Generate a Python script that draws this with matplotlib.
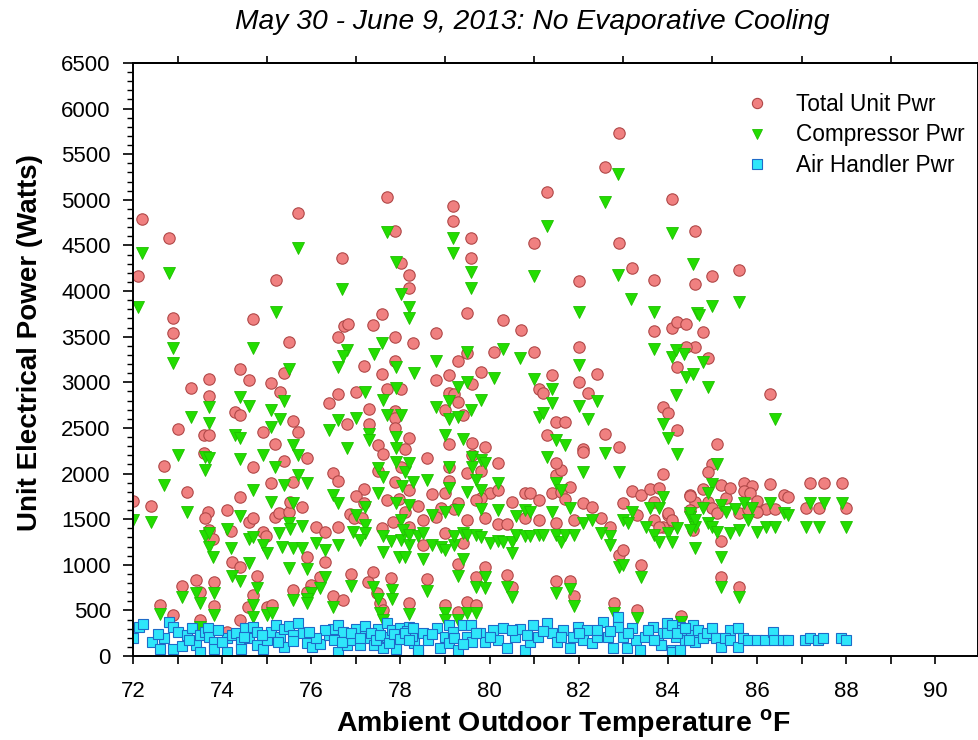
import matplotlib
matplotlib.use("Agg")
import matplotlib.pyplot as plt
from matplotlib.ticker import MultipleLocator, FixedLocator, NullFormatter

plt.rcParams['font.family'] = ['Liberation Sans', 'DejaVu Sans']
plt.rcParams['mathtext.fontset'] = 'custom'
plt.rcParams['mathtext.rm'] = 'Liberation Sans:bold'
plt.rcParams['mathtext.bf'] = 'Liberation Sans:bold'

title = "May 30 - June 9, 2013: No Evaporative Cooling"
xlabel = "Ambient Outdoor Temperature $^{\\mathregular{o}}$F"
ylabel = "Unit Electrical Power (Watts)"
series_names = ["Total Unit Pwr", "Compressor Pwr", "Air Handler Pwr"]
x_ticks = [72, 74, 76, 78, 80, 82, 84, 86, 88, 90]
y_ticks = [0, 500, 1000, 1500, 2000, 2500, 3000, 3500, 4000, 4500, 5000, 5500, 6000, 6500]

# (temperature F, watts)
total_pts = [
    (72.20, 4790), (72.81, 4580), (72.11, 4165), (72.90, 3704), (72.90, 3540), (74.69, 3694),
    (75.21, 4121), (75.70, 4855), (75.50, 3441), (76.69, 4362), (76.60, 3496), (76.74, 3617),
    (76.82, 3639), (77.39, 3628), (77.59, 3748), (77.70, 5031), (77.88, 4658), (77.88, 3496),
    (78.01, 4307), (78.19, 4176), (78.19, 4033), (78.28, 3430),
    (73.30, 2937), (73.71, 3036), (73.71, 2850), (74.40, 3146), (74.60, 3025), (75.10, 2992),
    (75.30, 2893), (75.39, 3102), (73.01, 2488), (73.59, 2422), (73.71, 2422), (74.29, 2674),
    (74.40, 2641), (74.92, 2455), (75.19, 2324), (75.59, 2576), (75.70, 2455), (75.39, 2137),
    (75.90, 2170), (74.69, 2071), (73.59, 2225), (72.70, 2082), (73.21, 1797), (75.10, 1896),
    (74.40, 1743), (75.59, 1907), (72.00, 1699), (72.40, 1644), (73.68, 1578), (73.62, 1512),
    (74.11, 1600), (74.60, 1469), (74.69, 1512), (75.19, 1523), (75.28, 1567), (75.50, 1578),
    (75.79, 1633), (75.52, 1688), (73.71, 1381), (73.80, 1282), (74.20, 1370), (74.92, 1359),
    (74.98, 1315), (76.11, 1414), (76.31, 1359), (74.22, 1030), (74.40, 975), (74.78, 877),
    (75.90, 1085), (76.31, 1030), (76.20, 866), (75.99, 778), (75.59, 723), (75.90, 701),
    (73.10, 767), (73.41, 833), (73.50, 701), (73.82, 811), (72.61, 559), (72.90, 449),
    (73.82, 548), (73.50, 395), (74.69, 669), (74.58, 537), (75.01, 537), (75.12, 559),
    (74.40, 395), (74.11, 263), (76.49, 2006), (76.60, 1918), (76.40, 2773), (76.60, 2872),
    (77.00, 2893), (77.18, 3178), (77.30, 2707), (76.80, 2543), (77.30, 2543), (77.50, 2313),
    (77.61, 2214), (77.59, 3091), (77.70, 2926), (77.88, 2685), (77.88, 2608), (77.88, 2499),
    (78.19, 2389), (78.10, 2269), (77.88, 3233), (78.01, 2926), (77.50, 2028), (78.01, 2071),
    (77.88, 1907), (78.19, 1819), (77.18, 1830), (77.00, 1754), (77.18, 1677), (77.70, 1710),
    (77.97, 1721), (76.87, 1556), (76.96, 1512), (77.14, 1512), (77.59, 1403), (77.83, 1469),
    (78.10, 1578), (78.19, 1414), (76.89, 899), (77.39, 921), (77.27, 811), (77.48, 690),
    (77.79, 855), (77.54, 581), (77.61, 504), (76.49, 658), (76.71, 614), (78.19, 581),
    (76.60, 1414),
    (79.18, 4930), (79.18, 4770), (79.58, 4580), (79.58, 4360), (79.50, 3760), (78.80, 3540),
    (80.30, 3680), (80.70, 3570), (81.30, 5090), (81.00, 4530), (82.60, 5360), (82.90, 4530),
    (83.20, 4250), (82.00, 4110), (83.70, 4120), (84.10, 5010), (84.60, 4660), (84.60, 4080),
    (81.00, 3330), (82.00, 3390), (83.70, 3560), (84.10, 3600), (84.20, 3660), (84.40, 3640),
    (84.60, 3390), (84.40, 3390), (84.20, 3170), (78.80, 3020), (79.10, 3080), (79.50, 3320),
    (79.30, 3230), (79.80, 3110), (80.10, 3330), (79.60, 2980), (79.10, 2880), (79.20, 2870),
    (79.30, 2780), (79.00, 2700), (79.40, 2640), (81.40, 3080), (81.10, 2930), (81.20, 2880),
    (82.00, 3000), (82.40, 3090), (82.20, 2880), (81.50, 2560), (81.70, 2560), (81.30, 2420),
    (82.60, 2430), (83.90, 2730), (84.00, 2660), (84.20, 2480), (79.10, 2320), (79.60, 2330),
    (79.90, 2290), (82.10, 2270), (82.90, 2290),
    (80.20, 2120), (78.60, 2170), (79.60, 2200), (79.80, 2030), (79.10, 2070), (79.50, 2010),
    (79.10, 1920), (78.70, 1780), (79.00, 1790), (80.00, 1790), (80.20, 1820), (79.80, 1730),
    (79.30, 1680), (79.70, 1710), (80.50, 1690), (80.80, 1790), (80.90, 1790), (81.10, 1710),
    (81.40, 1790), (81.60, 1800), (81.50, 1980), (81.60, 2040), (81.50, 2120), (81.80, 1850),
    (81.70, 1720), (82.10, 2240), (82.10, 1680), (82.30, 1630), (83.00, 1680), (83.20, 1810),
    (83.40, 1760), (83.60, 1830), (83.80, 1840), (83.90, 1990), (84.00, 1550), (84.10, 1460),
    (84.50, 1760), (84.60, 1690), (78.40, 1640), (78.90, 1620), (79.20, 1610), (78.80, 1520),
    (79.50, 1490), (79.90, 1510), (80.20, 1450), (80.40, 1450), (80.80, 1510), (81.10, 1490),
    (81.50, 1460), (81.90, 1490), (82.50, 1510), (82.70, 1410), (83.30, 1550), (83.70, 1490),
    (83.90, 1410), (78.50, 1490), (79.00, 1350), (78.50, 1220), (79.40, 1240), (82.90, 1110),
    (83.00, 1160), (79.30, 1010), (79.90, 980), (83.40, 1000), (78.60, 840), (79.70, 870),
    (80.40, 890), (80.50, 760), (81.50, 820), (81.80, 820), (81.90, 660), (79.00, 560),
    (79.50, 590), (79.70, 560), (79.30, 480), (82.80, 580), (83.30, 500), (84.30, 440),
    (84.80, 3550), (84.90, 3270), (85.10, 2320), (85.00, 2100), (84.90, 2020), (86.30, 2870),
    (83.69, 1688), (85.20, 1870), (85.30, 1730), (85.40, 1840), (85.70, 1900), (85.90, 1860),
    (85.70, 1810), (85.85, 1790), (86.00, 1700), (86.30, 1890), (86.60, 1760), (86.70, 1740),
    (87.20, 1900), (87.50, 1900), (87.90, 1900), (87.10, 1620), (87.40, 1620), (88.00, 1620),
    (86.20, 1610), (86.40, 1610), (84.50, 1750), (84.80, 1830), (84.90, 1690), (84.50, 1600),
    (85.00, 1620), (85.10, 1570), (85.60, 1570), (85.80, 1610), (86.00, 1580), (84.57, 1381),
    (84.00, 1570), (84.10, 1490), (83.80, 1410), (85.20, 1260), (85.20, 870), (85.60, 760),
    (85.00, 4170), (85.60, 4230), (82.90, 5730),
]

comp_pts = [
    (72.20, 4420), (72.11, 3830), (72.81, 4200), (72.90, 3380), (74.69, 3380), (75.21, 3770),
    (75.70, 4470), (76.69, 4020), (77.59, 3430), (77.70, 4650), (77.90, 4320), (78.01, 3970),
    (78.19, 3820), (78.19, 3700), (76.80, 3350),
    (72.90, 3210), (75.50, 3150), (76.60, 3170), (76.71, 3290), (77.41, 3310), (77.90, 3170),
    (78.30, 3100), (73.30, 2620), (73.71, 2730), (73.71, 2550), (74.40, 2840), (74.60, 2740),
    (75.10, 2700), (75.39, 2790), (73.01, 2200), (73.62, 2180), (73.71, 2170), (73.62, 2040),
    (74.29, 2420), (74.40, 2390), (74.40, 2160), (74.92, 2200), (75.10, 2510), (75.30, 2600),
    (75.19, 2070), (75.59, 2310), (75.70, 2200), (75.70, 1980), (75.90, 1900), (72.70, 1870),
    (73.21, 1580), (72.00, 1490), (72.40, 1470), (74.69, 1820), (75.10, 1690), (75.39, 1870),
    (75.59, 1680), (74.40, 1530), (73.62, 1320), (73.71, 1350), (73.71, 1200), (73.80, 1090),
    (74.11, 1390), (74.20, 1180), (74.60, 1280), (74.69, 1300), (74.92, 1220), (75.01, 1130),
    (75.28, 1350), (75.35, 1190), (75.50, 1460), (75.52, 1390), (75.59, 1180), (75.79, 1430),
    (75.79, 1180), (76.11, 1240), (76.31, 1160), (75.50, 970), (75.90, 950), (74.22, 880),
    (74.40, 820), (74.78, 750), (74.60, 1020), (76.31, 870), (76.20, 750), (75.99, 690),
    (73.10, 650), (73.41, 690), (73.50, 580), (73.82, 690), (72.61, 460), (73.82, 450),
    (73.50, 320), (74.69, 560), (74.69, 430), (75.01, 450), (75.12, 470), (75.59, 610),
    (75.90, 620), (75.90, 580), (76.49, 540), (76.89, 770), (77.39, 760), (77.50, 620),
    (77.81, 720), (77.81, 620), (77.54, 470), (77.61, 390), (78.19, 460), (76.49, 1760),
    (76.60, 1680), (76.40, 2480), (76.60, 2590), (77.00, 2610), (76.80, 2280), (77.20, 2890),
    (77.30, 2430), (77.30, 2370), (77.50, 2060), (77.61, 1960), (77.61, 2810), (77.70, 2640),
    (77.90, 2940), (77.90, 2400), (77.90, 2280), (77.90, 2130), (78.01, 2640), (78.10, 2020),
    (78.19, 2120), (78.03, 1860), (78.29, 1910), (77.50, 1790), (77.20, 1630), (77.00, 1550),
    (77.20, 1440), (77.20, 1350), (76.93, 1360), (77.10, 1270), (77.61, 1310), (77.61, 1140),
    (77.79, 1260), (77.90, 1680), (78.01, 1490), (78.01, 1270), (78.19, 1220), (77.97, 1090),
    (78.19, 1660), (76.60, 1220),
    (79.18, 4580), (79.18, 4420), (79.58, 4210), (79.58, 4030), (82.88, 5280), (82.60, 4980),
    (81.30, 4710), (81.00, 4160), (82.88, 4180), (83.17, 3910), (82.00, 3770), (83.70, 3770),
    (84.10, 4640), (84.57, 4300), (84.66, 3760), (79.50, 3330), (78.80, 3230), (80.30, 3370),
    (80.69, 3270), (81.00, 3040), (82.00, 3190), (83.70, 3370), (84.10, 3280), (84.19, 3350),
    (84.37, 3310), (84.40, 3060), (84.57, 3090), (84.19, 2860), (78.80, 2730), (79.10, 2800),
    (79.30, 2950), (79.50, 3000), (79.80, 2810), (80.10, 3050), (79.58, 2700), (79.10, 2600),
    (79.30, 2620), (79.00, 2420), (79.40, 2380), (81.40, 2930), (81.40, 2770), (81.10, 2620),
    (81.20, 2660), (82.00, 2740), (82.40, 2800), (82.20, 2600), (83.90, 2540), (84.00, 2390),
    (81.50, 2370), (81.70, 2310),
    (81.30, 2180), (82.60, 2220), (84.20, 2210), (78.60, 1930), (79.60, 2180), (79.60, 2070),
    (79.10, 2070), (79.80, 2150), (79.90, 2120), (79.70, 1930), (80.20, 1900), (79.50, 1800),
    (79.80, 1820), (79.10, 1840), (82.10, 2020), (82.90, 2020), (81.50, 1900), (81.60, 1820),
    (78.70, 1550), (79.00, 1580), (79.30, 1600), (79.80, 1610), (80.20, 1600), (80.60, 1530),
    (80.80, 1600), (80.90, 1580), (81.40, 1580), (81.80, 1620), (82.10, 1460), (82.30, 1490),
    (82.50, 1350), (82.70, 1310), (82.70, 1220), (83.00, 1490), (83.10, 1460), (83.20, 1580),
    (83.50, 1410), (83.60, 1620), (83.80, 1620), (83.70, 1330), (83.90, 1740), (84.00, 1350),
    (84.20, 1400), (84.50, 1520), (84.60, 1410), (84.60, 1180), (78.05, 1380), (78.20, 1330),
    (78.40, 1310), (78.50, 1350), (78.70, 1220), (78.90, 1200), (79.00, 1160), (79.20, 1220),
    (79.20, 1310), (79.40, 1350), (79.50, 1330), (79.70, 1330), (79.80, 1300), (80.00, 1240),
    (80.20, 1260), (80.30, 1250), (80.50, 1250), (80.50, 1130), (80.60, 1330), (80.80, 1310),
    (80.90, 1310), (81.10, 1330), (81.20, 1330), (81.50, 1330), (81.60, 1250), (81.70, 1330),
    (81.90, 1330), (78.10, 1090), (78.50, 1060), (79.40, 1060), (79.30, 880), (79.90, 870),
    (79.70, 760), (79.90, 750), (78.60, 710), (80.40, 760), (80.50, 650), (81.50, 690),
    (81.80, 730), (81.90, 550), (82.90, 980), (83.00, 1000), (83.40, 870), (79.00, 470),
    (79.00, 400), (79.30, 390), (79.50, 470), (79.70, 470), (82.80, 470), (83.30, 420),
    (84.30, 370),
    (84.70, 3740), (85.00, 3840), (85.60, 3880), (84.80, 3220), (84.90, 2950), (85.10, 2100),
    (85.00, 1890), (84.90, 1790), (86.40, 2600), (85.20, 1660), (85.30, 1580), (85.50, 1610),
    (85.70, 1680), (85.90, 1620), (86.30, 1680), (86.60, 1570), (86.70, 1550), (87.20, 1680),
    (87.50, 1680), (87.90, 1680), (87.10, 1410), (87.40, 1410), (88.00, 1410), (86.20, 1410),
    (86.40, 1410), (84.50, 1570), (84.60, 1490), (84.80, 1620), (84.90, 1460), (85.00, 1410),
    (85.10, 1360), (85.40, 1350), (85.60, 1380), (85.80, 1490), (86.00, 1360), (84.50, 1380),
    (84.10, 1250), (83.80, 1250), (85.20, 1080), (85.20, 760), (85.60, 650),
]

airh_pts = [
    (72.00, 197), (72.13, 318), (72.22, 351), (72.43, 153), (72.61, 77), (72.70, 197),
    (72.81, 373), (72.90, 318), (72.90, 77), (73.01, 263), (73.10, 110), (73.21, 230),
    (73.32, 307), (73.41, 121), (73.50, 230), (73.50, 44), (73.62, 263), (73.68, 307),
    (73.71, 208), (73.82, 153), (73.82, 77), (74.11, 197), (74.11, 44), (74.22, 230),
    (74.31, 252), (74.42, 153), (74.42, 77), (74.51, 307), (74.60, 197), (74.69, 318),
    (74.78, 263), (74.78, 121), (74.92, 77), (75.01, 175), (75.10, 263), (75.21, 340),
    (75.30, 208), (75.39, 296), (75.39, 99), (75.50, 329), (75.59, 230), (75.70, 362),
    (75.82, 252), (75.90, 142), (76.02, 99), (76.20, 132), (76.40, 230), (76.49, 296),
    (76.60, 340), (76.60, 44), (76.71, 263), (76.80, 121), (76.91, 175), (77.00, 296),
    (77.09, 121), (77.21, 263), (77.30, 197), (77.41, 121), (77.50, 296), (77.61, 88),
    (77.70, 362), (77.70, 208), (77.81, 285), (77.90, 175), (77.90, 77), (77.99, 307),
    (78.10, 208), (78.19, 318), (78.31, 142), (78.40, 33),
    (76.50, 180), (76.70, 150), (76.90, 250), (77.10, 200), (77.20, 330), (77.35, 250),
    (77.45, 180), (77.55, 230), (77.75, 140), (77.85, 240), (78.00, 190), (78.15, 270),
    (78.25, 220), (76.30, 290), (76.10, 200), (75.95, 260), (75.60, 160), (75.25, 150),
    (74.90, 230), (74.50, 210), (74.00, 150), (73.90, 280), (73.25, 170), (72.55, 240),
    (78.10, 252), (78.19, 175), (78.28, 307), (78.40, 66), (78.51, 252), (78.62, 175),
    (78.82, 307), (78.89, 88), (79.00, 208), (79.09, 340), (79.09, 142), (79.18, 263),
    (79.29, 66), (79.41, 340), (79.50, 208), (79.59, 340), (79.61, 153), (79.79, 252),
    (79.90, 153), (80.08, 285), (80.19, 175), (80.30, 307), (80.39, 88), (80.57, 208),
    (80.68, 296), (80.80, 66), (80.91, 153), (80.98, 340), (81.09, 208), (81.29, 362),
    (81.40, 252), (81.52, 153), (81.65, 285), (81.81, 88), (81.87, 208), (81.99, 318),
    (82.10, 175), (82.19, 285), (82.30, 142), (82.41, 208), (82.55, 373), (82.66, 208),
    (82.77, 88), (82.88, 427), (82.88, 318), (83.00, 208), (83.09, 88), (83.20, 307),
    (83.29, 175), (83.38, 66), (83.49, 208), (83.67, 318), (83.78, 175), (83.89, 252),
    (83.98, 362), (84.10, 66), (84.19, 208), (84.28, 318), (84.39, 175), (84.48, 252),
    (84.57, 340), (84.68, 208),
    (78.70, 240), (79.20, 200), (79.40, 130), (79.70, 250), (80.00, 210), (80.50, 280),
    (80.85, 230), (81.20, 270), (81.60, 210), (82.00, 250), (82.40, 290), (82.70, 270),
    (83.10, 250), (83.55, 280), (83.85, 120), (84.30, 280), (84.60, 150), (85.00, 230),
    (85.40, 280),
    (83.69, 175), (83.98, 252), (84.10, 340), (84.10, 44), (84.21, 252), (84.28, 66),
    (84.39, 307), (84.48, 175), (84.68, 285), (84.79, 197), (84.88, 252), (84.99, 307),
    (85.08, 197), (85.20, 99), (85.29, 197), (85.40, 175), (85.58, 307), (85.58, 99),
    (85.69, 197), (85.80, 175), (86.00, 175), (86.18, 175), (86.36, 263), (86.39, 175),
    (86.59, 175), (86.70, 175), (87.08, 175), (87.19, 197), (87.37, 175), (87.48, 197),
    (87.89, 197), (88.00, 175),
]

total_temp = [p[0] for p in total_pts]
total_pwr = [p[1] for p in total_pts]
comp_temp = [p[0] for p in comp_pts]
comp_pwr = [p[1] for p in comp_pts]
airh_temp = [p[0] for p in airh_pts]
airh_pwr = [p[1] for p in airh_pts]

W, H = 979, 740
fig = plt.figure(figsize=(W / 100, H / 100), dpi=100)
ax = fig.add_axes([133 / W, 1 - 656 / H, (978 - 133) / W, (656 - 63) / H])

ax.plot(total_temp, total_pwr, 'o', ms=8.2, mfc='#F08080', mec='#B04848', mew=0.8,
        linestyle='none', label=series_names[0])
ax.plot(comp_temp, comp_pwr, 'v', ms=8.2, mfc='#22DD00', mec='#1FBF00', mew=0.6,
        linestyle='none', label=series_names[1])
ax.plot(airh_temp, airh_pwr, 's', ms=7.7, mfc='#2EE6FA', mec='#1E6BC8', mew=0.8,
        linestyle='none', label=series_names[2])

ax.set_xlim(72, 90.96)
ax.set_ylim(0, 6500)
ax.xaxis.set_major_locator(FixedLocator(x_ticks))
ax.xaxis.set_minor_locator(MultipleLocator(1))
ax.yaxis.set_major_locator(FixedLocator(y_ticks))
ax.yaxis.set_minor_locator(MultipleLocator(100))

ax.tick_params(axis='x', which='both', direction='out', length=6, width=1.2, top=False,
               labelsize=16, pad=12)
ax.tick_params(axis='y', which='major', direction='out', length=7, width=1.2, right=False,
               labelsize=16, pad=9)
ax.tick_params(axis='y', which='minor', direction='out', length=4, width=1.0, right=False)

sec = ax.secondary_xaxis('top')
sec.set_xticks([73, 75, 77, 79, 81, 83, 85, 87, 89])
sec.xaxis.set_major_formatter(NullFormatter())
sec.tick_params(direction='out', length=5, width=1.2)
sec.spines['top'].set_linewidth(1.4)

for s in ax.spines.values():
    s.set_linewidth(1.4)

ax.set_xlabel(xlabel, fontsize=20.5, fontweight='bold', labelpad=4)
ax.xaxis.label.set_x((563 - 133) / (978 - 133))
ax.set_ylabel(ylabel, fontsize=20, fontweight='bold')
ax.yaxis.set_label_coords((43 - 133) / (978 - 133), (656 - 343) / (656 - 63))

fig.text(532 / W, 1 - 22 / H, title, fontsize=20.3, style='italic', ha='center', va='center')

leg = ax.legend(loc='upper left', bbox_to_anchor=((746 - 133) / (978 - 133), 1 - (93 - 63) / (656 - 63)),
                frameon=False, fontsize=16.3, handlelength=1.0, handletextpad=1.2,
                labelspacing=0.33, borderpad=0, borderaxespad=0, markerscale=0.9)

fig.savefig("out.png", dpi=100)
